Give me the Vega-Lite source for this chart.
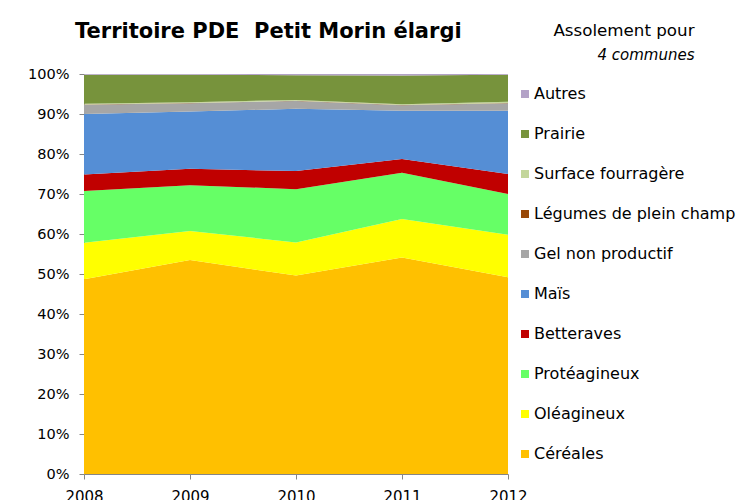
{
  "$schema": "https://vega.github.io/schema/vega-lite/v6.json",
  "autosize": "none",
  "width": 424,
  "height": 400,
  "padding": {"left": 84, "top": 74, "right": 228, "bottom": 26},
  "background": "white",
  "config": {
    "font": "DejaVu Sans",
    "view": {"stroke": null}
  },
  "title": {
    "text": "Territoire PDE\u00a0 Petit Morin élargi",
    "anchor": "start",
    "frame": "group",
    "dx": -9,
    "offset": 0,
    "dy": 37,
    "baseline": "alphabetic",
    "fontSize": 21,
    "fontWeight": "bold",
    "font": "DejaVu Sans",
    "color": "black"
  },
  "data": {
    "values": [
      {"annee": 2008, "culture": "Céréales", "part": 48.7, "ordre": 1},
      {"annee": 2008, "culture": "Oléagineux", "part": 9.1, "ordre": 2},
      {"annee": 2008, "culture": "Protéagineux", "part": 12.95, "ordre": 3},
      {"annee": 2008, "culture": "Betteraves", "part": 4.15, "ordre": 4},
      {"annee": 2008, "culture": "Maïs", "part": 15.1, "ordre": 5},
      {"annee": 2008, "culture": "Gel non productif", "part": 2.3, "ordre": 6},
      {"annee": 2008, "culture": "Légumes de plein champ", "part": 0.05, "ordre": 7},
      {"annee": 2008, "culture": "Surface fourragère", "part": 0.2, "ordre": 8},
      {"annee": 2008, "culture": "Prairie", "part": 7.25, "ordre": 9},
      {"annee": 2008, "culture": "Autres", "part": 0.2, "ordre": 10},
      {"annee": 2009, "culture": "Céréales", "part": 53.5, "ordre": 1},
      {"annee": 2009, "culture": "Oléagineux", "part": 7.25, "ordre": 2},
      {"annee": 2009, "culture": "Protéagineux", "part": 11.45, "ordre": 3},
      {"annee": 2009, "culture": "Betteraves", "part": 4.1, "ordre": 4},
      {"annee": 2009, "culture": "Maïs", "part": 14.3, "ordre": 5},
      {"annee": 2009, "culture": "Gel non productif", "part": 2.1, "ordre": 6},
      {"annee": 2009, "culture": "Légumes de plein champ", "part": 0.05, "ordre": 7},
      {"annee": 2009, "culture": "Surface fourragère", "part": 0.2, "ordre": 8},
      {"annee": 2009, "culture": "Prairie", "part": 6.85, "ordre": 9},
      {"annee": 2009, "culture": "Autres", "part": 0.2, "ordre": 10},
      {"annee": 2010, "culture": "Céréales", "part": 49.6, "ordre": 1},
      {"annee": 2010, "culture": "Oléagineux", "part": 8.3, "ordre": 2},
      {"annee": 2010, "culture": "Protéagineux", "part": 13.3, "ordre": 3},
      {"annee": 2010, "culture": "Betteraves", "part": 4.55, "ordre": 4},
      {"annee": 2010, "culture": "Maïs", "part": 15.55, "ordre": 5},
      {"annee": 2010, "culture": "Gel non productif", "part": 1.95, "ordre": 6},
      {"annee": 2010, "culture": "Légumes de plein champ", "part": 0.05, "ordre": 7},
      {"annee": 2010, "culture": "Surface fourragère", "part": 0.2, "ordre": 8},
      {"annee": 2010, "culture": "Prairie", "part": 6.2, "ordre": 9},
      {"annee": 2010, "culture": "Autres", "part": 0.3, "ordre": 10},
      {"annee": 2011, "culture": "Céréales", "part": 54.1, "ordre": 1},
      {"annee": 2011, "culture": "Oléagineux", "part": 9.65, "ordre": 2},
      {"annee": 2011, "culture": "Protéagineux", "part": 11.55, "ordre": 3},
      {"annee": 2011, "culture": "Betteraves", "part": 3.45, "ordre": 4},
      {"annee": 2011, "culture": "Maïs", "part": 12.05, "ordre": 5},
      {"annee": 2011, "culture": "Gel non productif", "part": 1.4, "ordre": 6},
      {"annee": 2011, "culture": "Légumes de plein champ", "part": 0.05, "ordre": 7},
      {"annee": 2011, "culture": "Surface fourragère", "part": 0.2, "ordre": 8},
      {"annee": 2011, "culture": "Prairie", "part": 7.15, "ordre": 9},
      {"annee": 2011, "culture": "Autres", "part": 0.4, "ordre": 10},
      {"annee": 2012, "culture": "Céréales", "part": 49.2, "ordre": 1},
      {"annee": 2012, "culture": "Oléagineux", "part": 10.6, "ordre": 2},
      {"annee": 2012, "culture": "Protéagineux", "part": 10.2, "ordre": 3},
      {"annee": 2012, "culture": "Betteraves", "part": 5.0, "ordre": 4},
      {"annee": 2012, "culture": "Maïs", "part": 15.8, "ordre": 5},
      {"annee": 2012, "culture": "Gel non productif", "part": 1.9, "ordre": 6},
      {"annee": 2012, "culture": "Légumes de plein champ", "part": 0.05, "ordre": 7},
      {"annee": 2012, "culture": "Surface fourragère", "part": 0.3, "ordre": 8},
      {"annee": 2012, "culture": "Prairie", "part": 6.75, "ordre": 9},
      {"annee": 2012, "culture": "Autres", "part": 0.2, "ordre": 10}
    ]
  },
  "mark": {"type": "area", "interpolate": "linear"},
  "encoding": {
    "x": {
      "field": "annee",
      "type": "quantitative",
      "scale": {"domain": [2008, 2012], "nice": false, "zero": false},
      "axis": {
        "values": [2008, 2009, 2010, 2011, 2012],
        "format": "d",
        "grid": false,
        "domainColor": "#868686",
        "tickColor": "#868686",
        "tickSize": 5,
        "labelFontSize": 15,
        "labelColor": "black",
        "labelPadding": 10,
        "labelFlush": false,
        "title": "Assolement pour",
        "titleFontWeight": "normal",
        "titleFontSize": 16.7,
        "titleColor": "black",
        "titleAlign": "right",
        "titleBaseline": "alphabetic",
        "titleAnchor": null,
        "titleX": 610,
        "titleY": -439
      }
    },
    "y": {
      "field": "part",
      "type": "quantitative",
      "stack": "normalize",
      "scale": {"domain": [0, 1]},
      "axis": {
        "values": [0, 0.1, 0.2, 0.3, 0.4, 0.5, 0.6, 0.7, 0.8, 0.9, 1],
        "format": ".0%",
        "grid": false,
        "domainColor": "#868686",
        "tickColor": "#868686",
        "tickSize": 5,
        "labelFontSize": 14.5,
        "labelColor": "black",
        "labelPadding": 10,
        "title": "4 communes",
        "titleFontWeight": "normal",
        "titleFontStyle": "italic",
        "titleFontSize": 15,
        "titleColor": "black",
        "titleAngle": 0,
        "titleAlign": "right",
        "titleBaseline": "alphabetic",
        "titleAnchor": null,
        "titleX": 610,
        "titleY": -15
      }
    },
    "color": {
      "field": "culture",
      "type": "nominal",
      "scale": {
        "domain": ["Autres", "Prairie", "Surface fourragère", "Légumes de plein champ", "Gel non productif", "Maïs", "Betteraves", "Protéagineux", "Oléagineux", "Céréales"],
        "range": ["#B3A2C7", "#77933C", "#C3D69B", "#984807", "#A6A6A6", "#558ED5", "#C00000", "#66FF66", "#FFFF00", "#FFC000"]
      },
      "legend": {
        "title": null,
        "orient": "none",
        "legendX": 433,
        "legendY": 12,
        "padding": 0,
        "symbolType": "square",
        "symbolSize": 64,
        "symbolStrokeWidth": 0,
        "symbolOpacity": 1,
        "labelFontSize": 16,
        "labelColor": "black",
        "labelOffset": 1,
        "labelLimit": 300,
        "rowPadding": 24
      }
    },
    "order": {"field": "ordre", "type": "quantitative"}
  }
}
